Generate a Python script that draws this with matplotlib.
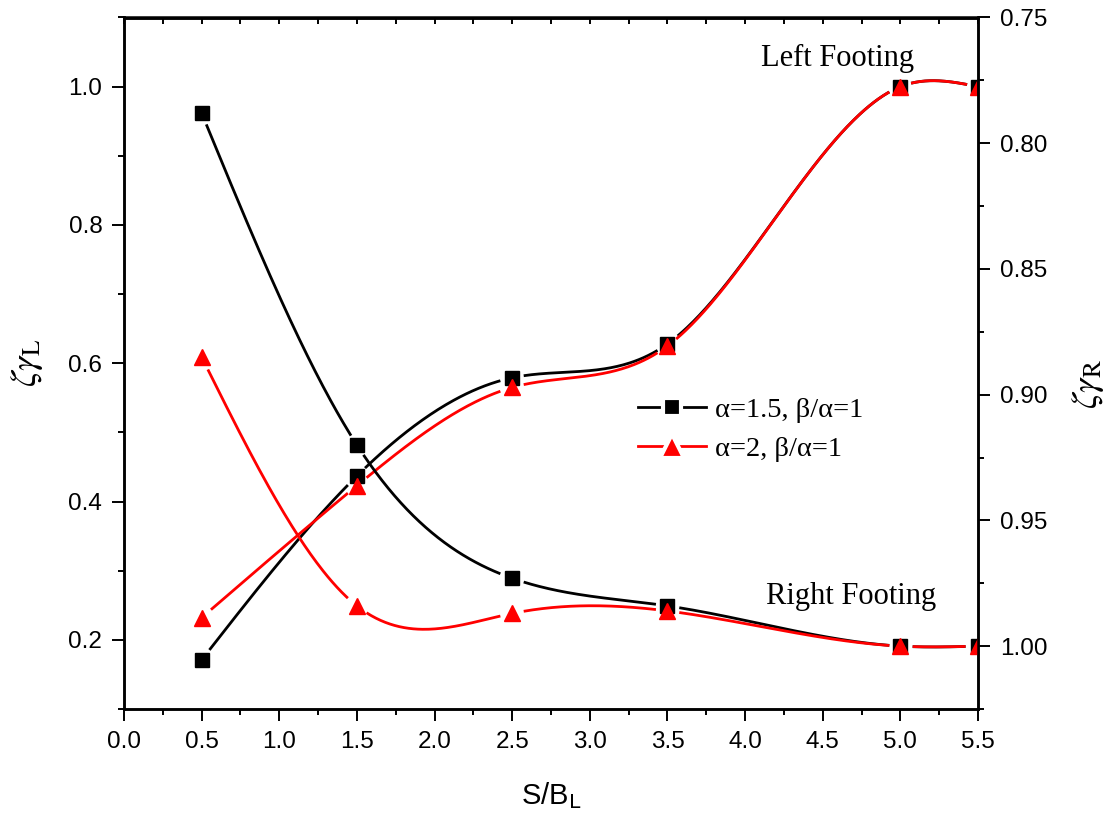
import numpy as np
import matplotlib
matplotlib.use('Agg')
import matplotlib.pyplot as plt
from matplotlib.lines import Line2D
from matplotlib.legend_handler import HandlerLine2D
from matplotlib.ticker import MultipleLocator

# S/B_L values
x = [0.5, 1.5, 2.5, 3.5, 5.0, 5.5]
# left footing (left axis)
left_a15 = [0.171, 0.437, 0.579, 0.628, 1.0, 1.0]
left_a2 = [0.232, 0.423, 0.565, 0.625, 1.0, 1.0]
# right footing (right axis, inverted)
right_a15 = [0.788, 0.920, 0.973, 0.984, 1.0, 1.0]
right_a2 = [0.885, 0.984, 0.987, 0.986, 1.0, 1.0]

labels = [r'α=1.5, β/α=1', r'α=2, β/α=1']

plt.rcParams['font.family'] = ['Liberation Sans', 'DejaVu Sans']


def spline(xp, yp, n=500):
    # natural cubic spline, only used to draw the smooth connecting line
    xp = np.asarray(xp, float)
    yp = np.asarray(yp, float)
    k = len(xp)
    h = np.diff(xp)
    A = np.zeros((k, k))
    b = np.zeros(k)
    A[0, 0] = A[-1, -1] = 1
    for i in range(1, k - 1):
        A[i, i - 1] = h[i - 1]
        A[i, i] = 2 * (h[i - 1] + h[i])
        A[i, i + 1] = h[i]
        b[i] = 6 * ((yp[i + 1] - yp[i]) / h[i] - (yp[i] - yp[i - 1]) / h[i - 1])
    M = np.linalg.solve(A, b)
    xs = np.linspace(xp[0], xp[-1], n)
    j = np.clip(np.searchsorted(xp, xs) - 1, 0, k - 2)
    t0 = xp[j + 1] - xs
    t1 = xs - xp[j]
    hj = h[j]
    ys = (M[j] * t0 ** 3 + M[j + 1] * t1 ** 3) / (6 * hj) \
        + (yp[j] / hj - M[j] * hj / 6) * t0 + (yp[j + 1] / hj - M[j + 1] * hj / 6) * t1
    return xs, ys


def gapped(ax, xs, ys, xp, yp, r=11):
    # cut the line close to each marker, like Origin does
    pts = ax.transData.transform(np.column_stack([xs, ys]))
    mk = ax.transData.transform(np.column_stack([xp, yp]))
    d = np.hypot(pts[:, None, 0] - mk[None, :, 0], pts[:, None, 1] - mk[None, :, 1]).min(axis=1)
    ys = ys.copy()
    ys[d < r] = np.nan
    return ys


fig = plt.figure(figsize=(11.14, 8.17), dpi=100)
ax = fig.add_axes([124 / 1114, 1 - 709 / 817, 854 / 1114, 691.5 / 817])
ax2 = ax.twinx()

ax.set_xlim(0, 5.5)
ax.set_ylim(0.1, 1.1)
ax2.set_ylim(1.025, 0.75)

series = [
    (ax, left_a15, 'black', 's', 9.5),
    (ax2, right_a15, 'black', 's', 9.5),
    (ax, left_a2, 'red', '^', 11),
    (ax2, right_a2, 'red', '^', 11),
]
for a, yv, c, m, ms in series:
    xs, ys = spline(x, yv)
    a.plot(xs, gapped(a, xs, ys, x, yv), color=c, lw=2, solid_capstyle='butt')
    a.plot(x, yv, ls='none', marker=m, ms=ms, color=c)

# ticks
ax.xaxis.set_major_locator(MultipleLocator(0.5))
ax.xaxis.set_minor_locator(MultipleLocator(0.25))
ax.yaxis.set_major_locator(MultipleLocator(0.2))
ax.yaxis.set_minor_locator(MultipleLocator(0.1))
ax2.yaxis.set_major_locator(MultipleLocator(0.05))
ax2.yaxis.set_minor_locator(MultipleLocator(0.025))
ax.xaxis.set_major_formatter(plt.FormatStrFormatter('%.1f'))
ax.yaxis.set_major_formatter(plt.FormatStrFormatter('%.1f'))
ax2.yaxis.set_major_formatter(plt.FormatStrFormatter('%.2f'))

for a in (ax, ax2):
    a.tick_params(which='major', direction='out', length=8.6, width=1.4, pad=7, labelsize=17.5)
    a.tick_params(which='minor', direction='out', length=4.3, width=1.4)
    for s in a.spines.values():
        s.set_linewidth(1.8)
ax.tick_params(axis='y', right=False)

top = ax.secondary_xaxis('top')
top.xaxis.set_major_locator(MultipleLocator(0.5))
top.xaxis.set_minor_locator(MultipleLocator(0.25))
top.tick_params(which='both', direction='in', length=5, width=1.4, labeltop=False)
top.spines['top'].set_linewidth(1.8)

# labels
ax.set_xlabel(r'S/B$_{\mathrm{L}}$', fontsize=21, math_fontfamily='dejavusans')
ax.xaxis.set_label_coords(0.5, -0.103)
ax.set_ylabel(r'$\zeta\gamma_{\mathrm{L}}$', fontsize=26, math_fontfamily='stix')
ax.yaxis.set_label_coords(-0.093, 0.5)
ax2.set_ylabel(r'$\zeta\gamma_{\mathrm{R}}$', fontsize=26, math_fontfamily='stix')
ax2.yaxis.set_label_coords(1.108, 0.47)

ax2.text(0.836, 0.941, 'Left Footing', transform=ax.transAxes, ha='center', va='center',
         family='Liberation Serif', fontsize=22)
ax2.text(0.851, 0.162, 'Right Footing', transform=ax.transAxes, ha='center', va='center',
         family='Liberation Serif', fontsize=22)

# legend
h1 = Line2D([], [], color='black', lw=2, marker='s', ms=9.5)
h2 = Line2D([], [], color='red', lw=2, marker='^', ms=11)


def white_edge(lh, oh):
    lh.update_from(oh)
    lh.set_markeredgecolor('white')
    lh.set_markeredgewidth(3)
    lh.set_markersize(oh.get_markersize() + (3.5 if oh.get_marker() == 's' else 6))


ax2.legend([h1, h2], labels, loc='upper left', bbox_to_anchor=(638 / 1114, 1 - 397 / 817),
           bbox_transform=fig.transFigure, frameon=False,
           prop=dict(family='Liberation Serif', size=20.5), handlelength=2.4,
           handletextpad=0.3, labelspacing=0.45, borderpad=0, borderaxespad=0,
           handler_map={Line2D: HandlerLine2D(update_func=white_edge)})

fig.savefig('out.png', dpi=100)
